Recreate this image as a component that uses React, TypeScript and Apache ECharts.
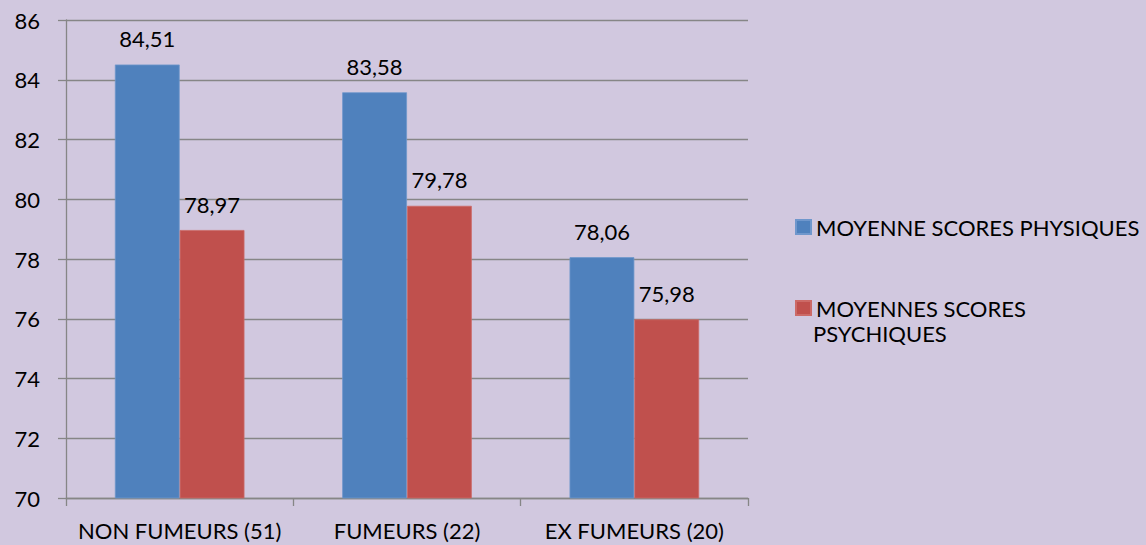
import React, { useEffect, useRef } from "react";
import * as echarts from "echarts";

const categories = ["NON FUMEURS (51)", "FUMEURS (22)", "EX FUMEURS (20)"];
const physique = [84.51, 83.58, 78.06];
const psychique = [78.97, 79.78, 75.98];
const seriesNames = ["MOYENNE SCORES PHYSIQUES", "MOYENNES SCORES PSYCHIQUES"];
const yTicks = { min: 70, max: 86, interval: 2 };

const FONT = "Lato, 'Open Sans', sans-serif";
const FS = 22;

export default function App() {
  const ref = useRef<HTMLDivElement>(null);
  useEffect(() => {
    document.body.style.margin = "0";
    const chart = echarts.init(ref.current!, undefined, { renderer: "svg" });
    const labelCfg = {
      show: true,
      position: "top",
      distance: 15,
      color: "#000",
      fontSize: FS,
      fontFamily: FONT,
      formatter: (p: any) => p.value.toFixed(2).replace(".", ","),
    };
    chart.setOption({
      animation: false,
      backgroundColor: "#D1C8DF",
      textStyle: { fontFamily: FONT },
      grid: { left: 66, right: 398, top: 20, bottom: 47 },
      xAxis: {
        type: "category",
        data: categories,
        axisLine: { lineStyle: { color: "#868686", width: 1.3 } },
        axisTick: { show: true, length: 8, lineStyle: { color: "#868686", width: 1.3 } },
        axisLabel: { color: "#000", fontSize: FS, fontFamily: FONT, margin: 21, interval: 0 },
      },
      yAxis: {
        type: "value",
        min: yTicks.min,
        max: yTicks.max,
        interval: yTicks.interval,
        axisLine: { show: true, lineStyle: { color: "#868686", width: 1.3 } },
        axisTick: { show: true, length: 8, lineStyle: { color: "#868686", width: 1.3 } },
        axisLabel: { color: "#000", fontSize: FS, fontFamily: FONT, margin: 26 },
        splitLine: { lineStyle: { color: "#868686", width: 1.3 } },
      },
      legend: {
        orient: "vertical",
        left: 790,
        top: 209,
        itemWidth: 15,
        itemHeight: 14,
        itemGap: 55,
        icon: "rect",
        textStyle: { color: "#000", fontSize: FS, fontFamily: FONT, lineHeight: 26 },
        formatter: (name: string) => (name === seriesNames[1] ? "MOYENNES SCORES" : name),
        data: seriesNames,
      },
      graphic: [
        {
          type: "text",
          left: 813,
          top: 320,
          style: { text: "PSYCHIQUES", fill: "#000", fontSize: FS, fontFamily: FONT, lineHeight: 26 },
        },
      ],
      series: [
        {
          name: seriesNames[0],
          type: "bar",
          data: physique,
          barGap: "0%",
          barCategoryGap: "43%",
          itemStyle: { color: "#4F81BD", borderColor: "#6F97CC", borderWidth: 0.8 },
          label: labelCfg,
        },
        {
          name: seriesNames[1],
          type: "bar",
          data: psychique,
          itemStyle: { color: "#C0504D", borderColor: "#CC6A67", borderWidth: 0.8 },
          label: labelCfg,
        },
      ],
    });
    return () => chart.dispose();
  }, []);
  return <div ref={ref} style={{ width: 1146, height: 545 }} />;
}
